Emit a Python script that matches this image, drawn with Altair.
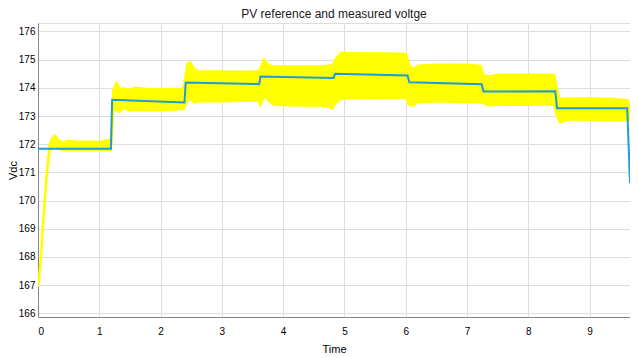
import altair as alt
import pandas as pd

# Reference (blue step line)
t_ref = [0.0, 1.19, 1.21, 2.39, 2.41, 3.61, 3.63, 4.82, 4.85, 6.03, 6.06, 7.24, 7.27,
         8.44, 8.47, 9.615, 9.66]
v_ref = [171.84, 171.84, 173.58, 173.48, 174.19, 174.13, 174.40, 174.35, 174.50, 174.44,
         174.20, 174.13, 173.87, 173.88, 173.28, 173.28, 170.62]

# Measured voltage (yellow, fast oscillation shown as envelope)
t_meas = [0.00, 0.02, 0.05, 0.076, 0.11, 0.146, 0.19, 0.23, 0.27, 0.33, 0.40, 0.50, 0.65,
          0.80, 1.00, 1.17, 1.19, 1.23, 1.28, 1.33, 1.40, 1.48, 1.58, 1.80, 2.10, 2.37,
          2.40, 2.44, 2.48, 2.55, 2.62, 3.00, 3.40, 3.60, 3.63, 3.69, 3.76, 3.85, 4.20,
          4.60, 4.81, 4.85, 4.95, 5.30, 5.70, 6.00, 6.06, 6.12, 6.20, 6.50, 7.00, 7.22,
          7.27, 7.35, 7.50, 8.00, 8.42, 8.47, 8.52, 8.65, 9.00, 9.40, 9.62, 9.66]
v_upper = [166.95, 167.30, 168.00, 169.00, 170.00, 171.00, 171.95, 172.20, 172.30, 172.15,
           172.05, 172.12, 172.08, 172.10, 172.08, 172.15, 172.20, 173.90, 174.17, 173.95,
           173.98, 173.92, 174.00, 173.95, 173.95, 173.97, 174.30, 174.85, 174.90, 174.65,
           174.58, 174.58, 174.57, 174.58, 174.70, 175.00, 174.80, 174.76, 174.76, 174.76,
           174.80, 175.00, 175.23, 175.22, 175.22, 175.20, 174.80, 174.64, 174.78, 174.82,
           174.82, 174.78, 174.45, 174.40, 174.46, 174.46, 174.46, 173.90, 173.60, 173.62,
           173.62, 173.60, 173.55, 173.30]
v_lower = [166.95, 167.30, 168.00, 169.00, 170.00, 171.00, 171.80, 171.90, 171.95, 171.85,
           171.80, 171.80, 171.80, 171.80, 171.80, 171.80, 171.80, 173.30, 173.20, 173.15,
           173.30, 173.20, 173.22, 173.20, 173.22, 173.25, 173.35, 173.55, 173.65, 173.48,
           173.52, 173.52, 173.54, 173.55, 173.40, 173.75, 173.55, 173.40, 173.37, 173.38,
           173.28, 173.45, 173.62, 173.64, 173.65, 173.65, 173.40, 173.37, 173.50, 173.52,
           173.50, 173.50, 173.45, 173.38, 173.40, 173.40, 173.42, 173.00, 172.77, 172.88,
           172.87, 172.85, 172.85, 172.90]

y_ticks = [166, 167, 168, 169, 170, 171, 172, 173, 174, 175, 176]
x_ticks = [0, 1, 2, 3, 4, 5, 6, 7, 8, 9]

ref_df = pd.DataFrame({"t": t_ref, "v": v_ref})
meas_df = pd.DataFrame({"t": t_meas, "hi": v_upper, "lo": v_lower})

FONT = "Liberation Sans"

x_scale = alt.Scale(domain=[0, 9.66], nice=False, zero=False)
y_scale = alt.Scale(domain=[165.87, 176.3], nice=False, zero=False)


def x_axis():
    return alt.Axis(values=x_ticks, title="Time", grid=True, ticks=False,
                    labelPadding=9, titlePadding=7, format="d", labelOverlap=False,
                    titleFontWeight="normal")


def y_axis():
    return alt.Axis(values=y_ticks, title="Vdc", grid=True, ticks=False,
                    labelPadding=3, format="d", labelOverlap=False,
                    titleFontWeight="normal", titleX=-24.5, titleBaseline="middle")


band = alt.Chart(meas_df).mark_area(
    color="#ffff00", stroke="#ffff00", strokeWidth=2.5, opacity=1, clip=True
).encode(
    x=alt.X("t:Q", scale=x_scale, axis=x_axis()),
    y=alt.Y("hi:Q", scale=y_scale, axis=y_axis()),
    y2="lo:Q",
)

line = alt.Chart(ref_df).mark_line(color="#1f9bd8", strokeWidth=2, clip=True).encode(
    x=alt.X("t:Q", scale=x_scale, axis=x_axis()),
    y=alt.Y("v:Q", scale=y_scale, axis=y_axis()),
)

chart = alt.layer(band, line).properties(
    width=592,
    height=294,
    title=alt.TitleParams("PV reference and measured voltge", font=FONT, fontSize=12,
                          fontWeight="normal", color="#1a1a1a", offset=2, anchor="middle"),
    autosize=alt.AutoSizeParams(type="none"),
    padding={"left": 30, "top": 15, "right": 0, "bottom": 40},
).configure_view(
    stroke="#000000", strokeWidth=1
).configure_axis(
    labelFont=FONT, labelFontSize=10, labelColor="#262626",
    titleFont=FONT, titleFontSize=12, titleFontWeight="normal", titleColor="#1a1a1a",
    gridColor="#a0a0a0", gridWidth=1, gridOpacity=1,
    domainColor="#000000", domainWidth=1,
).configure(background="white")

chart.save("out.html", embed_options={"renderer": "svg", "actions": False})
